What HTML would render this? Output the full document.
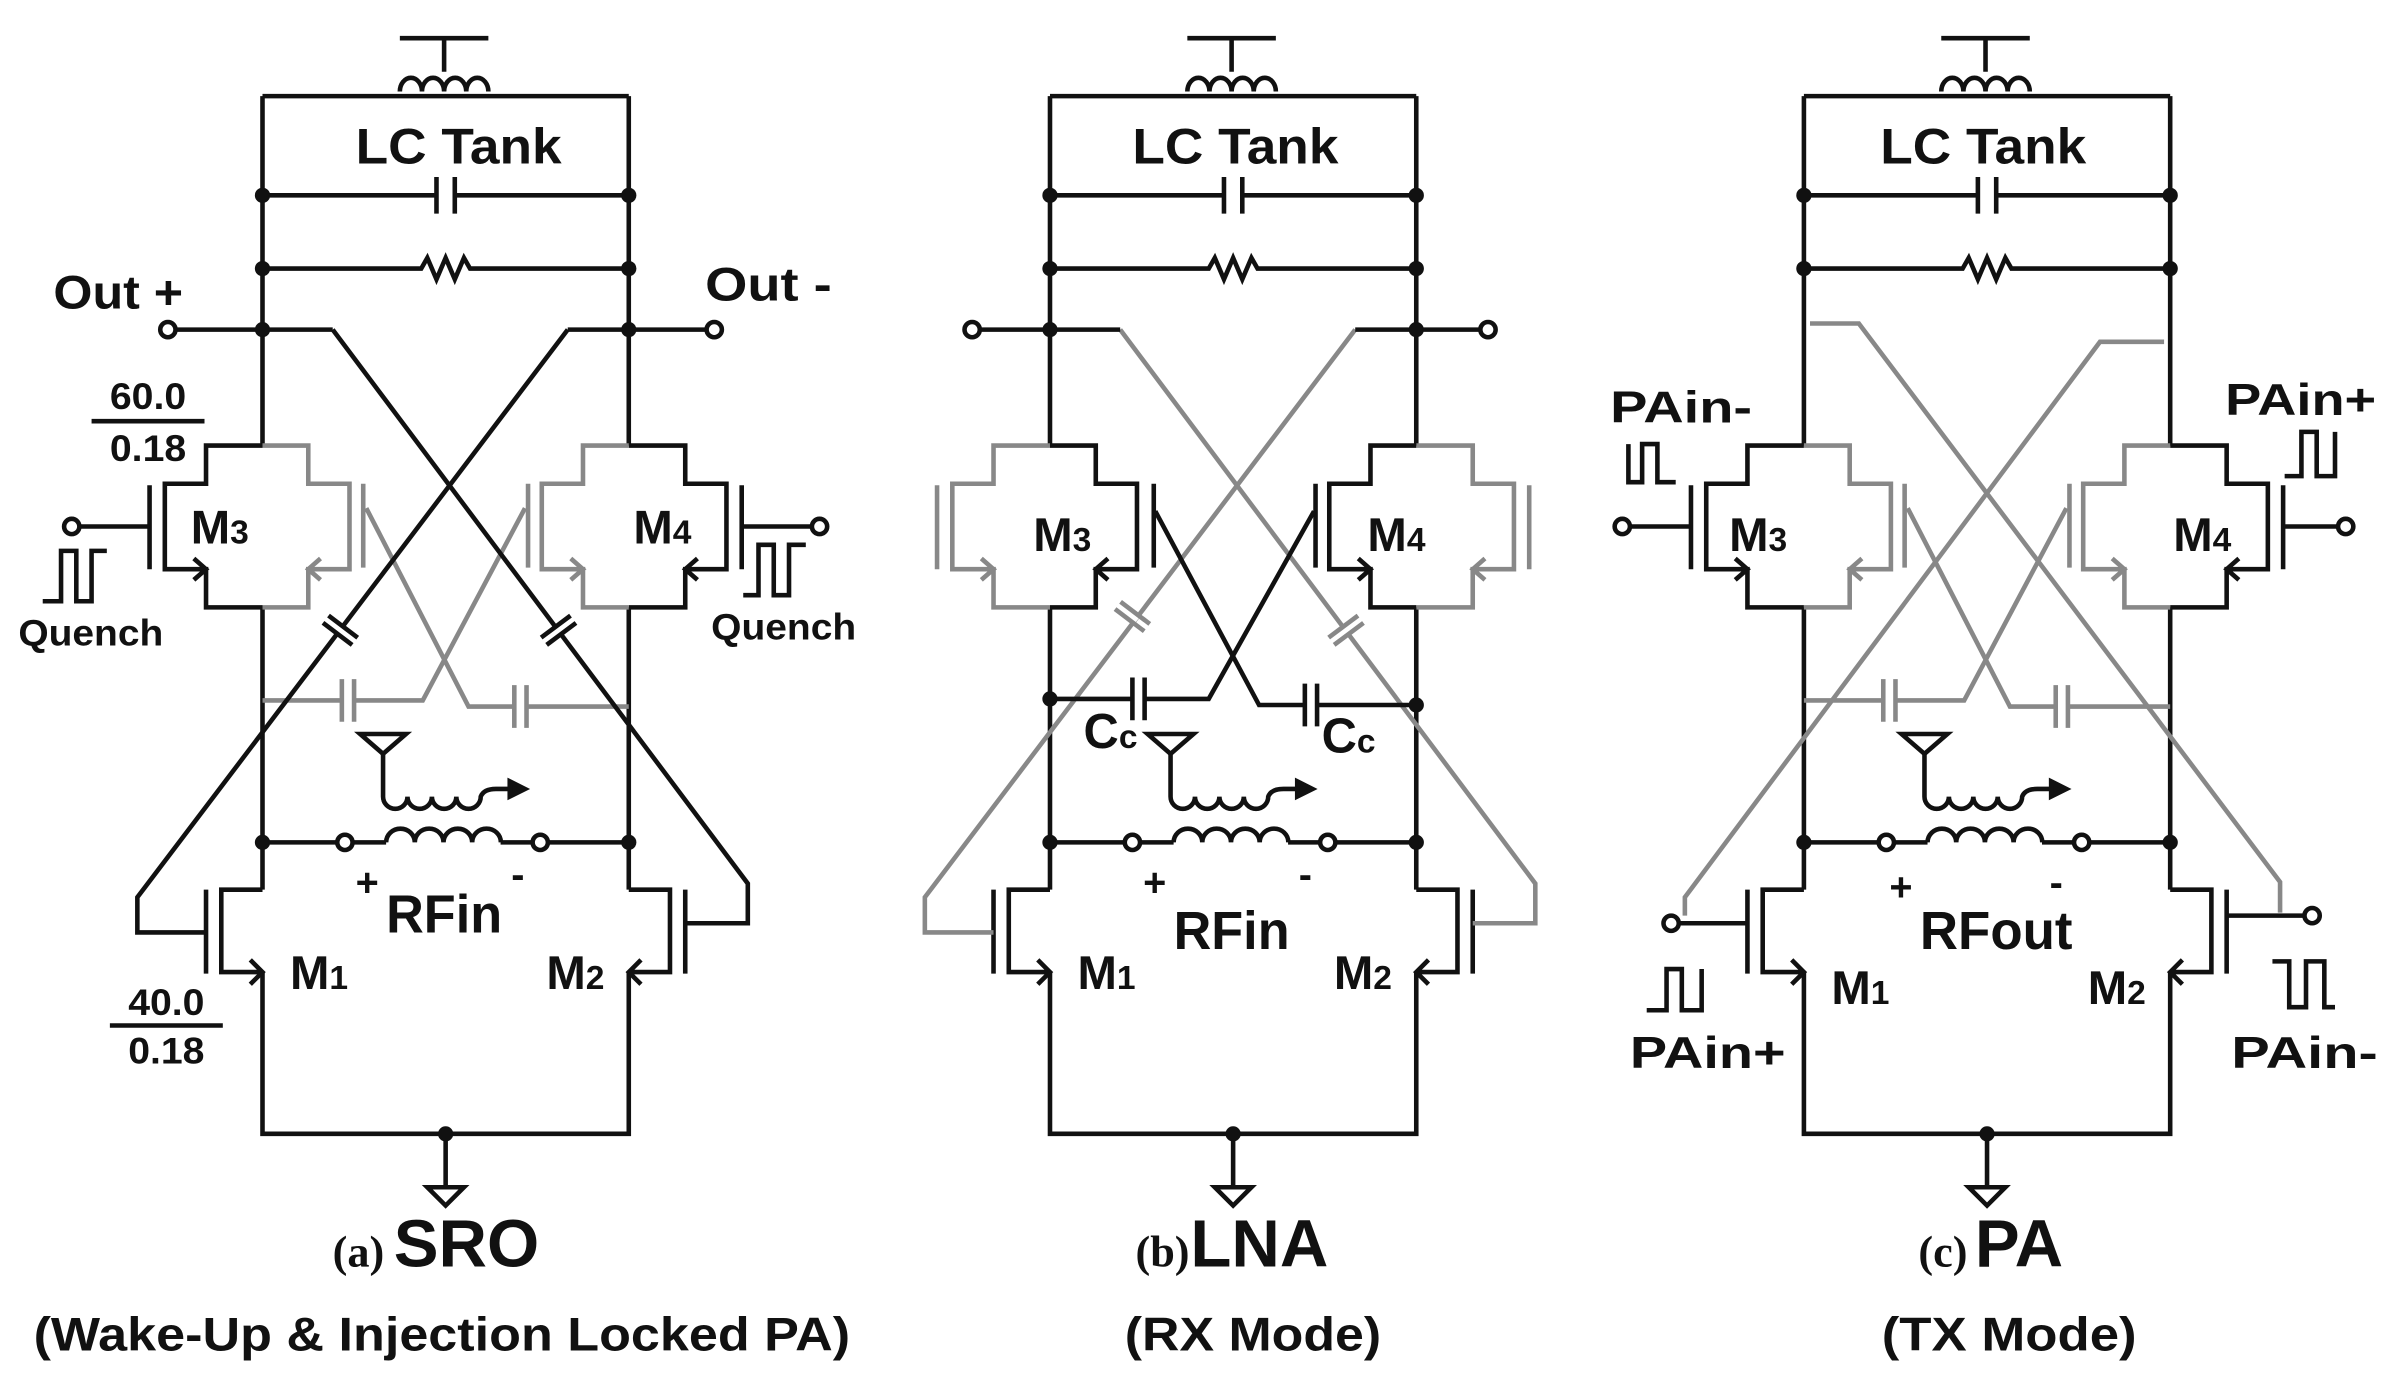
<!DOCTYPE html>
<html><head><meta charset="utf-8"><style>
html,body{margin:0;padding:0;background:#fff;}
svg{display:block}
text{font-family:"Liberation Sans",Arial,sans-serif;font-weight:bold;fill:#111}
.s{font-family:"Liberation Serif",serif}
</style></head><body>
<svg width="2393" height="1378" viewBox="0 0 1568 903" preserveAspectRatio="none" xmlns="http://www.w3.org/2000/svg">
<defs>
<g id="base" fill="none" stroke="#111" stroke-width="3">
  <path d="M262 25H320M291 25V47M172 63H412"/>
  <path d="M262 60a7.25 9 0 0 1 14.5 0a7.25 9 0 0 1 14.5 0a7.25 9 0 0 1 14.5 0a7.25 9 0 0 1 14.5 0"/>
  <path d="M172 63V292M172 398V583M172 637V743H412V637M412 583V398M412 292V63"/>
  <path d="M172 128H286M298 128H412M286 116V140M298 116V140"/>
  <path d="M172 176H276l4 -7l6 14l6 -14l6 14l6 -14l4 7H412"/>
  <path d="M172 552H221M231 552H253M328 552H349M359 552H412"/>
  <path d="M253 552a9.4 9 0 0 1 18.8 0a9.4 9 0 0 1 18.8 0a9.4 9 0 0 1 18.8 0a9.4 9 0 0 1 18.8 0"/>
  <circle cx="226" cy="552" r="5" fill="#fff"/><circle cx="354" cy="552" r="5" fill="#fff"/>
  <path d="M236 481H266L251 494Z"/>
  <path d="M251 494V522a8 8 0 0 0 16 0a8 8 0 0 0 16 0a8 8 0 0 0 16 0a8 8 0 0 0 16 0q2 -5 10 -5H334"/>
  <path d="M334 512L344 517L334 522Z" fill="#111"/>
  <path d="M172 583H145V637H172M164 629L172 637L164 645M135 583V638"/>
  <path d="M412 583H439V637H412M420 629L412 637L420 645M449 583V638"/>
  <path d="M292 743V778M280 778H304L292 790Z"/>
</g>
<g id="dots" fill="#111">
  <circle cx="172" cy="128" r="5"/><circle cx="412" cy="128" r="5"/>
  <circle cx="172" cy="176" r="5"/><circle cx="412" cy="176" r="5"/>
  <circle cx="172" cy="552" r="5"/><circle cx="412" cy="552" r="5"/>
  <circle cx="292" cy="743" r="5"/>
</g>
<g id="mosA" fill="none" stroke-width="3">
  <g stroke="#111">
    <path d="M172 292H135V317H108V373H135V398H172M127 366L135 373L127 380M98 318V373"/>
    <path d="M412 292H449V317H476V373H449V398H412M457 366L449 373L457 380M486 318V373"/>
  </g>
  <g stroke="#888">
    <path d="M172 292H202V317H229V373H202V398H172M210 366L202 373L210 380M238 317V372"/>
    <path d="M412 292H382V317H355V373H382V398H412M374 366L382 373L374 380M346 317V372"/>
    <path d="M240 333L307 463H337M345 463H412M337 449V477M345 449V477"/>
    <path d="M344 333L277 459H232M224 459H172M232 445V473M224 445V473"/>
  </g>
</g>
</defs>

<!-- Panel A -->
<use href="#base"/><use href="#dots"/><use href="#mosA"/>
<g fill="none" stroke="#111" stroke-width="3">
  <path d="M115 216H218M372 216H463"/>
  <path d="M218 216L490 579V605H449M372 216L90 588V611H135"/>
  <path d="M52 345H98M486 345H532"/>
  <path d="M28 394H40V361H50V394H60V361H70"/>
  <path d="M487 390H497V357H507V390H517V357H528"/>
  <path d="M60 276H134M72 672H146"/>
</g>
<g fill="#fff" stroke="#111" stroke-width="3">
  <circle cx="110" cy="216" r="5"/><circle cx="468" cy="216" r="5"/>
  <circle cx="47" cy="345" r="5"/><circle cx="537" cy="345" r="5"/>
</g>
<g fill="#111"><circle cx="172" cy="216" r="5"/><circle cx="412" cy="216" r="5"/></g>
<g transform="translate(366,413) rotate(53.2)"><path d="M-4 0H4" stroke="#fff" stroke-width="8"/><path d="M-3 -12V12M3 -12V12" stroke="#111" stroke-width="3"/></g>
<g transform="translate(223,413) rotate(127.2)"><path d="M-4 0H4" stroke="#fff" stroke-width="8"/><path d="M-3 -12V12M3 -12V12" stroke="#111" stroke-width="3"/></g>
<text x="233" y="107" font-size="33" textLength="135" lengthAdjust="spacingAndGlyphs">LC Tank</text>
<text x="35" y="202" font-size="31" textLength="85" lengthAdjust="spacingAndGlyphs">Out +</text>
<text x="462" y="197" font-size="31" textLength="83" lengthAdjust="spacingAndGlyphs">Out -</text>
<text x="72" y="268" font-size="24" textLength="50" lengthAdjust="spacingAndGlyphs">60.0</text>
<text x="72" y="302" font-size="24" textLength="50" lengthAdjust="spacingAndGlyphs">0.18</text>
<text x="84" y="665" font-size="24" textLength="50" lengthAdjust="spacingAndGlyphs">40.0</text>
<text x="84" y="697" font-size="24" textLength="50" lengthAdjust="spacingAndGlyphs">0.18</text>
<text x="12" y="423" font-size="24" textLength="95" lengthAdjust="spacingAndGlyphs">Quench</text>
<text x="466" y="419" font-size="24" textLength="95" lengthAdjust="spacingAndGlyphs">Quench</text>
<text x="125" y="356" font-size="31">M<tspan font-size="22">3</tspan></text>
<text x="415" y="356" font-size="31">M<tspan font-size="22">4</tspan></text>
<text x="190" y="648" font-size="31">M<tspan font-size="22">1</tspan></text>
<text x="358" y="648" font-size="31">M<tspan font-size="22">2</tspan></text>
<text x="233" y="587" font-size="26">+</text>
<text x="335" y="582" font-size="26">-</text>
<text x="253" y="611" font-size="35" textLength="76" lengthAdjust="spacingAndGlyphs">RFin</text>
<text class="s" x="218" y="830" font-size="29">(a)</text>
<text x="258" y="830" font-size="44">SRO</text>
<text x="22" y="885" font-size="31" textLength="535" lengthAdjust="spacingAndGlyphs">(Wake-Up &amp; Injection Locked PA)</text>

<!-- Panel B -->
<g transform="translate(516,0)"><use href="#base"/><use href="#dots"/></g>
<g fill="none" stroke-width="3">
  <g stroke="#888">
    <path d="M688 292H651V317H624V373H651V398H688M643 366L651 373L643 380M614 318V373"/>
    <path d="M928 292H965V317H992V373H965V398H928M973 366L965 373L973 380M1002 318V373"/>
    <path d="M734 216L1006 579V605H965M888 216L606 588V611H651"/>
  </g>
  <g stroke="#111">
    <path d="M688 292H718V317H745V373H718V398H688M726 366L718 373L726 380M756 317V372"/>
    <path d="M928 292H898V317H871V373H898V398H928M890 366L898 373L890 380M862 317V372"/>
    <path d="M757 335L825 462H855M863 462H928M855 448V476M863 448V476"/>
    <path d="M861 335L792 458H750M742 458H688M750 444V472M742 444V472"/>
    <path d="M642 216H734M888 216H970"/>
  </g>
</g>
<g fill="#fff" stroke="#111" stroke-width="3"><circle cx="637" cy="216" r="5"/><circle cx="975" cy="216" r="5"/></g>
<g fill="#111"><circle cx="688" cy="216" r="5"/><circle cx="928" cy="216" r="5"/><circle cx="688" cy="458" r="5"/><circle cx="928" cy="462" r="5"/></g>
<g transform="translate(882,413) rotate(53.2)"><path d="M-4 0H4" stroke="#fff" stroke-width="8"/><path d="M-3 -12V12M3 -12V12" stroke="#888" stroke-width="3"/></g>
<g transform="translate(742,404) rotate(127.2)"><path d="M-4 0H4" stroke="#fff" stroke-width="8"/><path d="M-3 -12V12M3 -12V12" stroke="#888" stroke-width="3"/></g>
<text x="742" y="107" font-size="33" textLength="135" lengthAdjust="spacingAndGlyphs">LC Tank</text>
<text x="677" y="361" font-size="31">M<tspan font-size="22">3</tspan></text>
<text x="896" y="361" font-size="31">M<tspan font-size="22">4</tspan></text>
<text x="710" y="490" font-size="32">C<tspan font-size="22">c</tspan></text>
<text x="866" y="493" font-size="32">C<tspan font-size="22">c</tspan></text>
<text x="706" y="648" font-size="31">M<tspan font-size="22">1</tspan></text>
<text x="874" y="648" font-size="31">M<tspan font-size="22">2</tspan></text>
<text x="749" y="587" font-size="26">+</text>
<text x="851" y="582" font-size="26">-</text>
<text x="769" y="622" font-size="35" textLength="76" lengthAdjust="spacingAndGlyphs">RFin</text>
<text class="s" x="744" y="830" font-size="29">(b)</text>
<text x="780" y="830" font-size="44">LNA</text>
<text x="737" y="885" font-size="31" textLength="168" lengthAdjust="spacingAndGlyphs">(RX Mode)</text>

<!-- Panel C -->
<g transform="translate(1010,0)"><use href="#base"/><use href="#dots"/><use href="#mosA"/></g>
<g fill="none" stroke-width="3">
  <g stroke="#888">
    <path d="M1186 212H1218L1494 578V598"/>
    <path d="M1418 224H1376L1104 588V600"/>
  </g>
  <g stroke="#111">
    <path d="M1068 345H1108M1496 345H1532"/>
    <path d="M1100 605H1145M1459 600H1510"/>
    <path d="M1067 291V316H1076V291H1086V316H1098"/>
    <path d="M1497 312H1508V283H1518V312H1530V283"/>
    <path d="M1079 662H1092V635H1102V662H1115V635"/>
    <path d="M1489 630H1500V660H1511V630H1523V660H1530"/>
  </g>
</g>
<g fill="#fff" stroke="#111" stroke-width="3">
  <circle cx="1063" cy="345" r="5"/><circle cx="1537" cy="345" r="5"/>
  <circle cx="1095" cy="605" r="5"/><circle cx="1515" cy="600" r="5"/>
</g>
<text x="1232" y="107" font-size="33" textLength="135" lengthAdjust="spacingAndGlyphs">LC Tank</text>
<text x="1055" y="277" font-size="29" textLength="93" lengthAdjust="spacingAndGlyphs">PAin-</text>
<text x="1458" y="272" font-size="29" textLength="99" lengthAdjust="spacingAndGlyphs">PAin+</text>
<text x="1068" y="700" font-size="29" textLength="102" lengthAdjust="spacingAndGlyphs">PAin+</text>
<text x="1462" y="700" font-size="29" textLength="96" lengthAdjust="spacingAndGlyphs">PAin-</text>
<text x="1133" y="361" font-size="31">M<tspan font-size="22">3</tspan></text>
<text x="1424" y="361" font-size="31">M<tspan font-size="22">4</tspan></text>
<text x="1200" y="658" font-size="31">M<tspan font-size="22">1</tspan></text>
<text x="1368" y="658" font-size="31">M<tspan font-size="22">2</tspan></text>
<text x="1238" y="590" font-size="26">+</text>
<text x="1343" y="587" font-size="26">-</text>
<text x="1258" y="622" font-size="35" textLength="100" lengthAdjust="spacingAndGlyphs">RFout</text>
<text class="s" x="1257" y="830" font-size="29">(c)</text>
<text x="1294" y="830" font-size="44">PA</text>
<text x="1233" y="885" font-size="31" textLength="167" lengthAdjust="spacingAndGlyphs">(TX Mode)</text>
</svg>
</body></html>
